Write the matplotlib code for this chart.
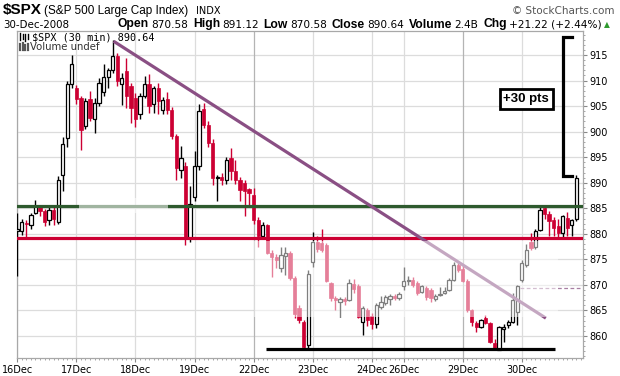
import matplotlib
matplotlib.use('Agg')
import matplotlib.pyplot as plt
from matplotlib.lines import Line2D
from matplotlib.patches import Rectangle
from matplotlib.ticker import FixedLocator, MultipleLocator
import numpy as np

W, H = 620, 376

# ---- data (30 min bars, $SPX 16-30 Dec 2008) ----
days = ['16Dec', '17Dec', '18Dec', '19Dec', '22Dec', '23Dec', '24Dec', '26Dec', '29Dec', '30Dec']
bars_per_day = [13, 13, 13, 13, 13, 13, 7, 13, 13, 13]
week_starts = ['22Dec', '29Dec']

opens = [880.6, 880.5, 882.2, 881.8, 884.1, 885.2, 884.4, 882.8, 884.6, 882.3, 891.5, 898.8, 909.4,
         908.6, 906.6, 901.1, 906.3, 902.4, 905.7, 907.8, 910.7, 912.0, 914.8, 909.3, 911.9, 908.9,
         906.6, 903.4, 907.0, 909.4, 905.5, 908.6, 904.3, 906.3, 904.3, 899.1, 892.4, 893.2, 879.2,
         887.3, 893.2, 904.5, 901.4, 897.8, 890.9, 891.2, 890.6, 894.9, 892.3, 890.6, 889.9, 888.7,
         887.7, 882.8, 879.5, 881.8, 876.3, 875.5, 873.3, 875.6, 876.3, 871.4, 865.4, 862.8, 858.2,
         874.4, 878.5, 878.2, 877.9, 870.3, 867.4, 866.6, 867.3, 867.1, 870.1, 869.8, 862.8, 865.0,
         864.0, 862.3, 865.7, 866.4, 867.3, 867.9, 867.4,
         869.7, 870.8, 871.0, 870.3, 868.7, 869.4, 869.0, 867.2, 868.0, 868.4, 869.0, 871.0, 874.0,
         873.1, 870.7, 865.1, 862.5, 861.8, 863.5, 862.5, 858.6, 857.3, 861.4, 862.2, 862.8, 864.8,
         871.0, 873.9, 878.5, 877.5, 880.8, 885.0, 883.9, 882.8, 881.6, 880.2, 883.1, 881.8, 882.9]
highs = [884.0, 883.0, 882.8, 884.0, 886.7, 885.6, 884.8, 885.2, 885.3, 891.3, 899.0, 910.0, 915.0,
         909.2, 907.0, 906.5, 907.9, 906.5, 910.5, 913.2, 912.5, 917.9, 915.3, 911.5, 914.5, 909.5,
         907.5, 907.5, 910.9, 911.3, 909.0, 909.5, 906.8, 907.7, 904.8, 899.5, 897.1, 894.0, 889.3,
         896.2, 905.5, 905.7, 902.0, 898.5, 891.5, 892.0, 895.0, 896.8, 894.5, 891.2, 890.5, 889.0,
         889.0, 883.2, 882.4, 882.0, 876.8, 876.0, 877.5, 877.5, 876.6, 871.8, 866.0, 863.2, 873.0,
         880.3, 879.5, 881.0, 878.2, 870.6, 867.8, 867.6, 867.6, 871.2, 871.1, 870.2, 865.8, 865.5,
         864.5, 866.5, 867.8, 868.0, 868.2, 868.3, 868.6,
         873.6, 871.8, 871.5, 870.8, 870.0, 869.8, 869.4, 868.2, 869.6, 869.5, 871.3, 874.4, 874.2,
         873.8, 871.2, 865.3, 863.0, 863.3, 864.2, 862.8, 859.5, 862.0, 862.3, 863.2, 868.5, 870.0,
         874.8, 878.0, 880.2, 881.0, 885.3, 885.3, 884.5, 883.2, 883.0, 883.6, 884.2, 883.0, 891.6]
lows = [871.8, 879.8, 879.2, 881.0, 883.8, 883.4, 881.5, 881.8, 881.8, 882.0, 888.3, 897.0, 908.5,
        905.5, 896.5, 900.5, 902.0, 899.8, 905.0, 907.0, 908.5, 911.5, 909.0, 905.3, 904.7, 901.7,
        901.0, 902.5, 906.5, 903.7, 903.7, 903.4, 903.4, 903.5, 898.5, 890.6, 891.0, 877.9, 878.5,
        886.5, 892.5, 900.8, 897.0, 889.5, 886.4, 889.5, 889.8, 890.6, 889.8, 886.5, 883.4, 885.5,
        882.0, 877.5, 879.0, 876.0, 871.6, 873.3, 872.5, 872.0, 871.0, 863.5, 862.5, 857.3, 857.3,
        873.5, 876.5, 876.5, 870.5, 866.8, 865.1, 863.8, 866.0, 866.8, 868.5, 863.5, 860.2, 862.0,
        861.4, 861.5, 865.2, 866.0, 866.0, 867.0, 867.0,
        869.0, 870.0, 869.5, 868.0, 868.4, 867.0, 866.7, 866.9, 867.8, 868.2, 868.8, 870.8, 872.5,
        870.5, 864.8, 862.0, 860.8, 861.5, 862.3, 858.7, 857.2, 857.2, 858.9, 861.5, 862.5, 862.2,
        870.6, 873.5, 876.8, 877.0, 880.5, 883.0, 879.5, 879.5, 879.3, 879.2, 879.5, 879.5, 882.5]
closes = [881.0, 882.4, 882.0, 883.7, 885.4, 884.4, 882.4, 884.7, 883.0, 890.6, 897.5, 909.4, 913.3,
          906.3, 900.4, 906.0, 902.7, 905.7, 909.6, 910.7, 912.0, 914.8, 909.9, 910.6, 907.0, 904.7,
          902.5, 907.0, 909.3, 905.0, 908.5, 906.0, 906.1, 904.3, 899.1, 892.9, 894.9, 879.2, 885.9,
          893.2, 904.0, 901.4, 897.8, 890.9, 891.0, 890.6, 894.5, 892.3, 890.5, 888.5, 888.3, 888.0,
          882.8, 879.5, 881.8, 876.3, 875.5, 874.8, 875.9, 876.3, 871.4, 864.4, 863.1, 857.9, 872.1,
          878.5, 877.0, 876.9, 870.7, 867.4, 867.0, 867.3, 866.8, 870.3, 869.2, 863.8, 865.4, 863.2,
          862.3, 866.1, 866.7, 867.7, 867.8, 867.5, 868.3,
          870.7, 871.0, 870.0, 868.5, 869.7, 867.7, 867.4, 867.8, 868.1, 868.9, 871.0, 874.0, 873.0,
          870.7, 865.1, 862.8, 861.8, 863.1, 862.5, 858.9, 857.4, 861.8, 861.8, 862.8, 867.1, 869.7,
          874.3, 876.9, 877.2, 880.5, 884.7, 883.9, 882.6, 881.1, 880.2, 883.4, 881.1, 882.8, 891.0]

# drawn annotations (bar index / price)
resistance = 885.5
support = 879.2
bottom_level = 857.4
bottom_span = [54.8, 118.3]
prev_close = 869.42
trend_x = [21.2, 116.3]
trend_y = [917.7, 863.5]
bracket_x = [122.0, 120.1, 120.1, 122.0]
bracket_y = [918.6, 918.6, 891.3, 891.3]
gain_text = '+30 pts'
gain_at = (112.0, 906.4)

RED = '#cc0033'
GREEN = '#2e5a2e'
PURPLE = '#8a4f84'
GRID = '#dcdcdc'


def fx(px):
    return px / W


def fy(py):
    return 1 - py / H


fig = plt.figure(figsize=(W / 100, H / 100), dpi=100)
fig.patch.set_facecolor('white')
ax = fig.add_axes([fx(17), fy(358), (582.7 - 17) / W, (358 - 30.5) / H])

o, h, l, c = map(np.asarray, (opens, highs, lows, closes))
x = np.arange(len(c))
up = c >= o

# candles
ax.vlines(x[up], l[up], h[up], colors='black', lw=1.0, zorder=3)
ax.vlines(x[~up], l[~up], h[~up], colors=RED, lw=1.0, zorder=3)
ax.bar(x[up], np.maximum(c - o, 0.15)[up], bottom=o[up], width=0.72,
       facecolor='white', edgecolor='black', lw=0.9, zorder=4)
ax.bar(x[~up], np.maximum(o - c, 0.15)[~up], bottom=c[~up], width=0.72,
       facecolor=RED, edgecolor=RED, lw=0.5, zorder=4)

# levels and trend
ax.axhline(resistance, color=GREEN, lw=2.3, zorder=5)
ax.axhline(support, color=RED, lw=2.3, zorder=5)
ax.hlines(bottom_level, *bottom_span, colors='black', lw=2.3, zorder=5)
ax.plot(trend_x, trend_y, color=PURPLE, lw=2.3, zorder=5, solid_capstyle='butt')
ax.hlines(prev_close, 110.6, 124.4, colors='#a77ea2', lw=0.9, linestyles=(0, (3, 2)), zorder=5)
ax.plot(bracket_x, bracket_y, color='black', lw=2.3, zorder=5, solid_joinstyle='miter')
ax.text(*gain_at, gain_text, ha='center', va='center', fontsize=9.5, fontweight='bold',
        family='Liberation Sans', zorder=7,
        bbox=dict(boxstyle='square,pad=0.3', fc='white', ec='black', lw=2.0))

# faint watermark patches (photo host overlay in the reference)
ax.add_patch(Rectangle((52, 863.8), 67, 14.8, facecolor='white', alpha=0.5, lw=0, zorder=6))
ax.add_patch(Rectangle((13.6, 884.0), 19.5, 3.0, facecolor='white', alpha=0.55, lw=0, zorder=6))

# axes
ax.set_xlim(-0.05, 124.4)
ax.set_ylim(855.7, 919.8)
starts = np.cumsum([0] + bars_per_day[:-1])
ax.xaxis.set_major_locator(FixedLocator(starts))
ax.set_xticklabels(days)
ax.xaxis.set_minor_locator(MultipleLocator(1))
ax.yaxis.tick_right()
ax.set_yticks(np.arange(860, 916, 5))
ax.yaxis.set_minor_locator(MultipleLocator(1))
for v in np.arange(860, 916, 5):
    ax.axhline(v, color=GRID, lw=0.9, zorder=1)
for d, s in zip(days, starts):
    ax.axvline(s, color='#b4b4b4' if d in week_starts else GRID, lw=0.9, zorder=1)

ax.tick_params(axis='both', which='major', length=3, color='#888888', labelsize=7,
               labelcolor='black', pad=2)
ax.tick_params(axis='both', which='minor', length=1.5, color='#999999')
for lab in ax.get_xticklabels() + ax.get_yticklabels():
    lab.set_family('DejaVu Sans')
for sp in ax.spines.values():
    sp.set_color('#a8a8a8')
    sp.set_linewidth(0.9)

# header
fig.text(fx(3), fy(14), '$SPX', fontsize=11, fontweight='bold', family='Liberation Sans',
         va='baseline')
fig.text(fx(44), fy(14), '(S&P 500 Large Cap Index)', fontsize=8.5, family='Liberation Sans',
         va='baseline')
fig.text(fx(196), fy(14), 'INDX', fontsize=7, family='DejaVu Sans', va='baseline')
fig.text(fx(614), fy(14), '\u00a9 StockCharts.com', fontsize=7.5, family='DejaVu Sans',
         color='#555555', ha='right', va='baseline')
fig.text(fx(3), fy(27.5), '30-Dec-2008', fontsize=7.4, family='DejaVu Sans', va='baseline')

stats = [('Open', True, 2), ('870.58', False, 5), ('High', True, 2), ('891.12', False, 5),
         ('Low', True, 2), ('870.58', False, 5), ('Close', True, 2), ('890.64', False, 5),
         ('Volume', True, 2), ('2.4B', False, 5), ('Chg', True, 2), ('+21.22 (+2.44%)', False, 3)]
renderer = fig.canvas.get_renderer()
pos = 118
for s, bold, gap in stats:
    t = fig.text(fx(pos), fy(27.5), s, va='baseline',
                 fontsize=8.7 if bold else 7.6,
                 family='Liberation Sans' if bold else 'DejaVu Sans',
                 fontweight='bold' if bold else 'normal')
    pos += t.get_window_extent(renderer).width + gap
fig.text(fx(pos), fy(27), '\u25b2', fontsize=5.5, color='#2e9a2e', family='DejaVu Sans',
         va='baseline')

# legend inside the plot
fig.text(fx(32), fy(40), '$SPX (30 min) 890.64', fontsize=7.3, family='DejaVu Sans Mono',
         va='baseline')
fig.text(fx(30), fy(50), 'Volume undef', fontsize=7.3, family='DejaVu Sans', va='baseline',
         color='#333333')
for px0, y0, y1 in [(20, 33, 40), (22.5, 34, 39), (25, 33.5, 40.5), (27.5, 34, 39)]:
    fig.add_artist(Line2D([fx(px0), fx(px0)], [fy(y0), fy(y1)], color='black', lw=1.0))
for px0, y0 in [(20, 44), (22.5, 42.5), (25, 45), (27.5, 43.5)]:
    fig.add_artist(Line2D([fx(px0), fx(px0)], [fy(y0), fy(49.5)], color='#555555', lw=1.6))

fig.savefig('out.png', dpi=100, facecolor='white')
